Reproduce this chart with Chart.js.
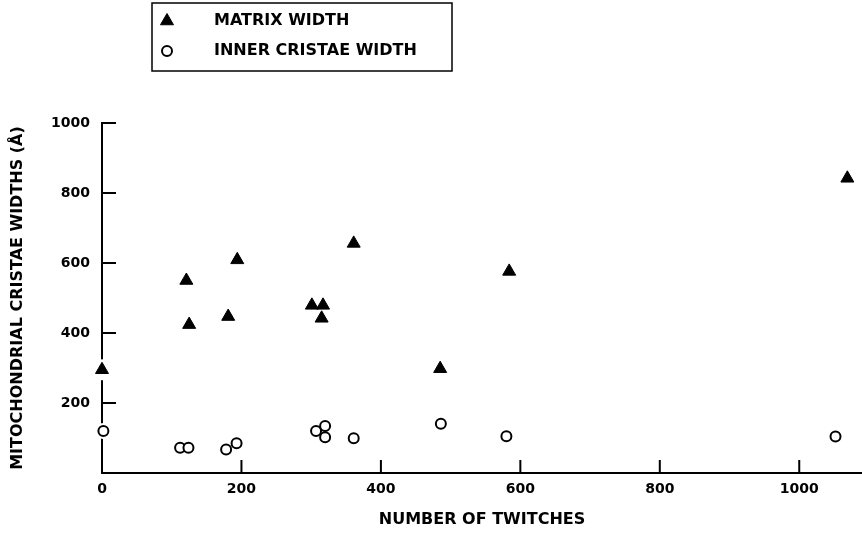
<!DOCTYPE html>
<html>
<head>
<meta charset="utf-8">
<script src="https://cdn.jsdelivr.net/npm/chart.js@4.4.1/dist/chart.umd.min.js"></script>
<style>
    html, body { margin: 0; padding: 0; background: #fff; }
    #wrap { position: relative; width: 862px; height: 535px; }
</style>
</head>
<body>
<div id="wrap"><canvas id="chart" width="862" height="535"></canvas></div>
<script>
// Valores
const twitchesMatrix = [0, 121, 125, 181, 194, 301, 317, 315, 361, 485, 584, 1069];
const matrixWidth    = [295, 550, 424, 447, 609, 479, 479, 442, 656, 298, 576, 842];
const twitchesInner  = [2, 112, 124, 178, 193, 307, 320, 320, 361, 486, 580, 1052];
const cristaeWidth   = [120, 72, 72, 67, 85, 120, 134, 102, 99, 141, 105, 104];

const xTicks = [0, 200, 400, 600, 800, 1000];
const yTicks = [200, 400, 600, 800, 1000];
const seriesLabels = ['MATRIX WIDTH', 'INNER CRISTAE WIDTH'];
const xTitle = 'NUMBER OF TWITCHES';
const yTitle = 'MITOCHONDRIAL CRISTAE WIDTHS (Å)';

const toPoints = (xs, ys) => xs.map((x, i) => ({ x: x, y: ys[i] }));

Chart.defaults.font.family = "'DejaVu Sans', sans-serif";
Chart.defaults.font.size = 14;
Chart.defaults.font.weight = 'bold';
Chart.defaults.color = '#000';

const titleFont = { size: 16, weight: 'bold' };

// halo blanco bajo los marcadores (corta el eje como en el original)
const markerHalo = {
    id: 'markerHalo',
    beforeDatasetsDraw(chart) {
        const ctx = chart.ctx;
        ctx.save();
        ctx.fillStyle = '#fff';
        chart.data.datasets.forEach((ds, i) => {
            chart.getDatasetMeta(i).data.forEach(pt => {
                ctx.beginPath();
                ctx.arc(pt.x, pt.y, ds.pointRadius + 3, 0, Math.PI * 2);
                ctx.fill();
            });
        });
        ctx.restore();
    }
};

// marcas de escala hacia dentro
const inwardTicks = {
    id: 'inwardTicks',
    beforeDatasetsDraw(chart) {
        const ctx = chart.ctx;
        const x = chart.scales.x, y = chart.scales.y;
        const area = chart.chartArea;
        ctx.save();
        ctx.strokeStyle = '#000';
        ctx.lineWidth = 2;
        ctx.beginPath();
        y.ticks.forEach(t => {
            const py = y.getPixelForValue(t.value);
            ctx.moveTo(area.left, py);
            ctx.lineTo(area.left + 14, py);
        });
        x.ticks.forEach(t => {
            const px = x.getPixelForValue(t.value);
            ctx.moveTo(px, area.bottom);
            ctx.lineTo(px, area.bottom - 13);
        });
        ctx.stroke();
        ctx.restore();
    }
};

function drawMarker(ctx, style, cx, cy) {
    ctx.beginPath();
    if (style === 'triangle') {
        const r = 7.5;
        ctx.moveTo(cx, cy - r);
        ctx.lineTo(cx + r * Math.cos(Math.PI / 6), cy + r * 0.5);
        ctx.lineTo(cx - r * Math.cos(Math.PI / 6), cy + r * 0.5);
        ctx.closePath();
        ctx.fillStyle = '#000';
        ctx.fill();
        ctx.lineWidth = 1;
        ctx.stroke();
    } else {
        ctx.arc(cx, cy, 5, 0, Math.PI * 2);
        ctx.fillStyle = '#fff';
        ctx.fill();
        ctx.lineWidth = 2;
        ctx.stroke();
    }
}

// leyenda con recuadro
const boxLegend = {
    id: 'boxLegend',
    afterDraw(chart) {
        const ctx = chart.ctx;
        ctx.save();
        ctx.strokeStyle = '#000';
        ctx.lineWidth = 1.5;
        ctx.strokeRect(152, 3, 300, 68);
        ctx.font = "bold 16px 'DejaVu Sans', sans-serif";
        ctx.textBaseline = 'middle';
        chart.data.datasets.forEach((ds, i) => {
            const cy = 21 + i * 30;
            drawMarker(ctx, ds.pointStyle, 167, cy);
            ctx.fillStyle = '#000';
            ctx.fillText(ds.label, 214, cy);
        });
        ctx.restore();
    }
};

new Chart(document.getElementById('chart'), {
    type: 'scatter',
    data: {
        datasets: [
            {
                label: seriesLabels[0],
                data: toPoints(twitchesMatrix, matrixWidth),
                pointStyle: 'triangle',
                pointRadius: 7.5,
                backgroundColor: '#000',
                borderColor: '#000',
                borderWidth: 1,
                clip: false
            },
            {
                label: seriesLabels[1],
                data: toPoints(twitchesInner, cristaeWidth),
                pointStyle: 'circle',
                pointRadius: 5,
                backgroundColor: '#fff',
                borderColor: '#000',
                borderWidth: 2,
                clip: false
            }
        ]
    },
    options: {
        responsive: false,
        animation: false,
        layout: { autoPadding: false, padding: { top: 123, left: 0, right: 0, bottom: 0 } },
        plugins: {
            legend: { display: false },
            tooltip: { enabled: false }
        },
        scales: {
            x: {
                type: 'linear',
                min: 0,
                max: 1090,
                afterBuildTicks: s => { s.ticks = xTicks.map(v => ({ value: v })); },
                afterFit: s => { s.height = 62; s.paddingRight = 0; s.paddingLeft = 0; },
                ticks: { padding: 8, includeBounds: false, callback: v => String(v) },
                grid: { display: true, drawOnChartArea: false, drawTicks: false },
                border: { display: true, color: '#000', width: 2 },
                title: { display: true, text: xTitle, font: titleFont, padding: { top: 4, bottom: 6 } }
            },
            y: {
                type: 'linear',
                min: 0,
                max: 1000,
                afterBuildTicks: s => { s.ticks = yTicks.map(v => ({ value: v })); },
                afterFit: s => { s.width = 102; },
                ticks: { padding: 12, callback: v => String(v) },
                grid: { display: true, drawOnChartArea: false, drawTicks: false },
                border: { display: true, color: '#000', width: 2 },
                title: { display: true, text: yTitle, font: titleFont, padding: { top: 8, bottom: 4 } }
            }
        }
    },
    plugins: [markerHalo, inwardTicks, boxLegend]
});
</script>
</body>
</html>
